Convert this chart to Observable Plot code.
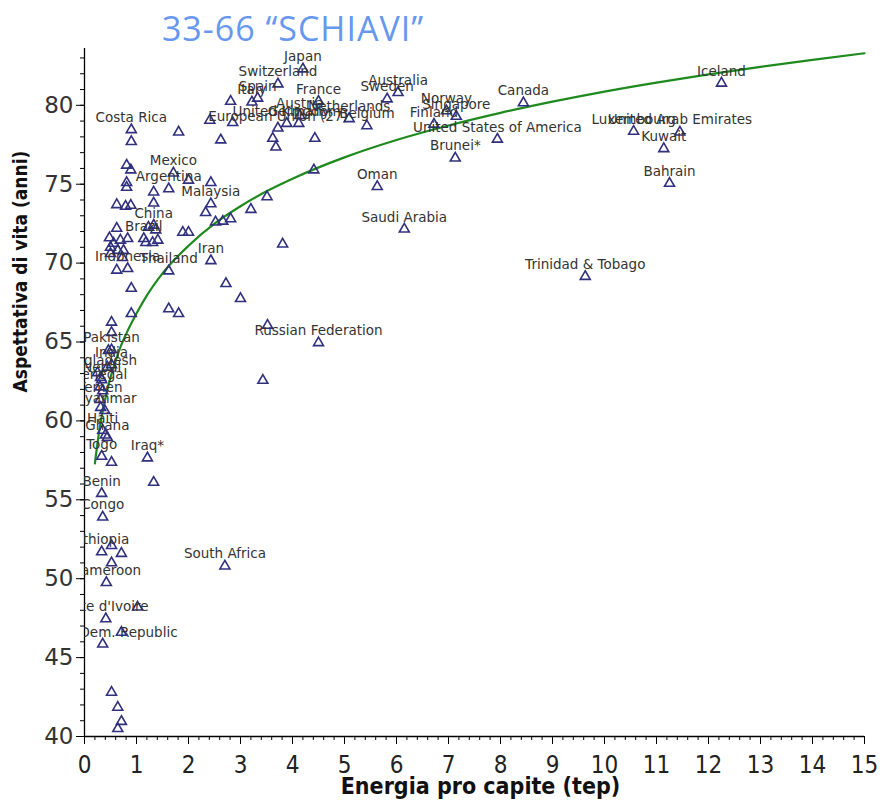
<!DOCTYPE html>
<html><head><meta charset="utf-8">
<script src="https://cdn.jsdelivr.net/npm/d3@7"></script>
<script src="https://cdn.jsdelivr.net/npm/@observablehq/plot@0.6"></script>
<style>
body{margin:0;background:#fff;}
#wrap{position:relative;width:882px;height:800px;}
#title{position:absolute;left:0;top:6px;width:586px;text-align:center;font-family:"Open Sans",sans-serif;font-size:34px;letter-spacing:1px;color:#6797ef;line-height:44px;}
#chart{position:absolute;left:0;top:0;}
</style></head><body>
<div id="wrap"><div id="chart"></div><div id="title">33-66 “SCHIAVI”</div></div>
<script>
// Labelled countries: name, energy per capita (tep), life expectancy (years)
const names = ["Japan","Switzerland","Spain","Italy","France","Sweden","Australia","United Kingdom","Germany","Austria","Netherlands","Belgium","European Union (27)","Norway","Singapore","Finland","United States of America","Brunei*","Canada","Iceland","Luxembourg","United Arab Emirates","Kuwait","Bahrain","Oman","Saudi Arabia","Trinidad & Tobago","Costa Rica","Mexico","Argentina","Malaysia","China","Brazil","Indonesia","Thailand","Iran","Russian Federation","South Africa","Pakistan","India","Bangladesh","Nepal","Senegal","Yemen","Myanmar","Haiti","Ghana","Togo","Iraq*","Benin","Congo","Ethiopia","Cameroon","Cote d'Ivoire","Congo, Dem. Republic"];
const energy = [4.2,3.72,3.33,3.22,4.5,5.82,6.03,3.89,4.12,4.14,5.09,5.43,3.72,6.96,7.15,6.72,7.94,7.13,8.44,12.25,10.56,11.45,11.14,11.25,5.63,6.15,9.63,0.9,1.71,1.62,2.43,1.33,1.14,0.83,1.62,2.43,4.5,2.7,0.52,0.52,0.25,0.33,0.3,0.3,0.39,0.35,0.44,0.33,1.21,0.33,0.35,0.33,0.42,0.41,0.35];
const lifeExp = [82.3,81.35,80.45,80.2,80.25,80.4,80.8,78.85,78.85,79.35,79.15,78.7,78.55,79.65,79.3,78.8,77.85,76.65,80.15,81.4,78.35,78.3,77.25,75.05,74.85,72.15,69.15,78.45,75.7,74.7,73.75,72.4,71.55,69.65,69.5,70.15,64.95,50.8,64.5,63.55,63.05,62.6,62.15,61.35,60.65,59.4,58.95,57.75,57.65,55.4,53.9,51.7,49.75,47.45,45.85];

// Unlabelled countries
const otherEnergy = [2.81,2.41,2.85,1.81,2.62,3.62,3.68,4.43,4.41,3.51,3.2,2.81,2.66,2.52,2.33,2.43,2.0,1.89,2.0,3.81,2.72,3.0,1.62,1.81,3.52,3.43,0.9,0.9,0.9,0.81,0.89,0.81,0.81,1.33,0.62,0.79,0.89,1.33,0.62,0.48,0.56,0.69,0.83,1.23,1.37,1.18,1.31,1.41,0.5,0.64,0.75,0.5,0.73,0.62,0.52,0.52,0.46,0.44,0.31,0.35,0.31,0.4,0.52,1.33,0.52,0.71,0.52,1.02,0.71,0.52,0.64,0.71,0.64];
const otherLife = [80.25,79.05,78.9,78.3,77.8,77.9,77.35,77.9,75.9,74.2,73.4,72.8,72.65,72.6,73.2,75.1,75.25,71.95,71.95,71.2,68.7,67.75,67.1,66.8,66.05,62.57,66.8,68.4,77.7,76.2,75.9,75.1,74.8,74.5,73.7,73.6,73.66,73.8,72.2,71.6,71.25,71.45,71.55,72.27,72.1,71.3,71.3,71.45,71.0,70.8,70.8,70.6,70.35,69.55,65.6,66.25,64.45,63.4,62.75,61.9,60.85,59.1,57.37,56.1,52.1,51.6,51.0,48.2,46.6,42.8,41.85,40.95,40.5];

// Fitted curve
const curveX = [0.2,0.25,0.3,0.4,0.5,0.6,0.7,0.8,1,1.2,1.5,2,2.5,3,3.5,4,5,6,7,8,9,10,11,12,13,14,15];
const curveY = [57.3,58.6,59.7,61.4,62.75,63.8,64.75,65.5,66.8,67.95,69.35,71.1,72.5,73.6,74.55,75.35,76.7,77.8,78.72,79.52,80.23,80.87,81.44,81.96,82.44,82.88,83.3];

const xMajor = d3.range(0, 16, 1);
const xMinor = d3.range(0, 75).map(i => i / 5);
const yMajor = d3.range(40, 81, 5);
const yMinor = d3.range(40, 84, 1);

const labelled = names.map((n, i) => ({name: n, x: energy[i], y: lifeExp[i]}));
const others = otherEnergy.map((x, i) => ({x, y: otherLife[i]}));
const curve = curveX.map((x, i) => ({x, y: curveY[i]}));
const allPts = labelled.concat(others);

const condFont = "'DejaVu Sans Condensed','DejaVu Sans',sans-serif";
const chart = Plot.plot({
  width: 882, height: 800,
  marginLeft: 84, marginRight: 18, marginTop: 48, marginBottom: 64,
  style: {fontFamily: "'DejaVu Sans',sans-serif", background: "#fff", color: "#000"},
  x: {domain: [0, 15]},
  y: {domain: [40, 83.6]},
  marks: [
    Plot.axisX(xMinor, {tickSize: 4, tickFormat: () => "", label: null, stroke: "#000"}),
    Plot.axisX(xMajor, {tickSize: 8, tickPadding: 11, fontSize: 24, fontFamily: condFont, label: null, stroke: "#000", fill: "#222"}),
    Plot.axisY(yMinor, {tickSize: 4, tickFormat: () => "", label: null, stroke: "#000"}),
    Plot.axisY(yMajor, {tickSize: 8, tickPadding: 3, fontSize: 23, fontFamily: "'DejaVu Sans',sans-serif", label: null, stroke: "#000", fill: "#333"}),
    Plot.ruleX([0], {stroke: "#000", strokeWidth: 1.3}),
    Plot.ruleY([40], {stroke: "#000", strokeWidth: 1.3}),
    Plot.line(curve, {x: "x", y: "y", stroke: "#1e8a1e", strokeWidth: 2.2, curve: "monotone-x"}),
    Plot.dot(allPts, {x: "x", y: "y", symbol: "triangle", r: 3.7, stroke: "#30307f", strokeWidth: 1.6, fill: "none"}),
    Plot.text(labelled, {x: "x", y: "y", text: "name", dy: -12, fontSize: 13.5, fill: "#333", clip: true}),
    Plot.text(["Aspettativa di vita (anni)"], {frameAnchor: "left", dx: -64, rotate: -90, fontSize: 19, fontWeight: "bold", fontFamily: condFont, fill: "#111"}),
    Plot.text(["Energia pro capite (tep)"], {frameAnchor: "bottom", dy: 57, dx: 6, fontSize: 23, fontWeight: "bold", fontFamily: condFont, fill: "#111"})
  ]
});
document.getElementById("chart").appendChild(chart);
</script>
</body></html>
